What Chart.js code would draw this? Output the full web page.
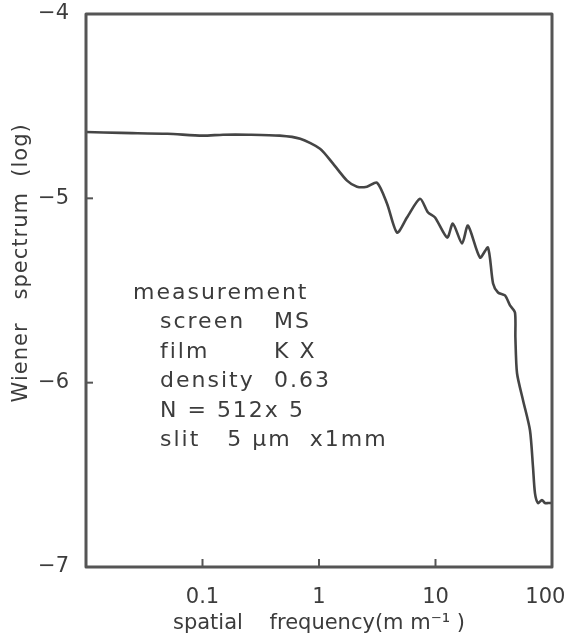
<!DOCTYPE html>
<html>
<head>
<meta charset="utf-8">
<script src="https://cdn.jsdelivr.net/npm/chart.js@4/dist/chart.umd.min.js"></script>
<style>
  html, body { margin: 0; padding: 0; background: #fff; }
  #wrap { width: 569px; height: 636px; }
</style>
</head>
<body>
<div id="wrap"><canvas id="spectrum"></canvas></div>
<script>
// spatial frequency (mm^-1) and log Wiener spectrum
var freq = [0.01, 0.02, 0.05, 0.1, 0.15, 0.25, 0.46, 0.69, 1.02, 1.32, 1.74, 2.12, 2.58, 3.15,
  3.84, 4.68, 5.69, 7.36, 8.63, 9.91, 12.6, 14.1, 16.9, 19.0, 24.1, 28.2, 31.2, 34.4, 39.5,
  43.6, 48.1, 48.5, 50.1, 56.4, 64.7, 68.7, 71.4, 75.8, 82.0, 87.1, 92.5, 100];
var wiener = [-4.64, -4.645, -4.65, -4.66, -4.655, -4.655, -4.66, -4.677, -4.731, -4.812, -4.904, -4.937, -4.937, -4.915,
  -5.029, -5.186, -5.104, -5.002, -5.077, -5.104, -5.213, -5.137, -5.245, -5.148, -5.321, -5.267, -5.462, -5.511, -5.527,
  -5.581, -5.619, -5.754, -5.949, -6.095, -6.258, -6.458, -6.599, -6.653, -6.637, -6.653, -6.653, -6.653];
var xTicks = [0.01, 0.1, 1, 10, 100];
var xTickLabels = ['', '0.1', '1', '10', '100  '];
var yTicks = [-7, -6, -5, -4];

var ink = '#3c3c3c';
var fontFamily = '"DejaVu Sans", sans-serif';

// measurement notes written inside the frame
var notes = [
  { text: 'measurement', col: 0, row: 0 },
  { text: 'screen', col: 1, row: 1 }, { text: 'MS', col: 2, row: 1 },
  { text: 'film', col: 1, row: 2 }, { text: 'K X', col: 2, row: 2 },
  { text: 'density', col: 1, row: 3 }, { text: '0.63', col: 2, row: 3 },
  { text: 'N = 512x 5', col: 1, row: 4 },
  { text: 'slit   5 μm  x1mm', col: 1, row: 5 }
];

var framePlugin = {
  id: 'frame',
  afterDraw: function(chart) {
    var ctx = chart.ctx;
    var a = chart.chartArea;
    var xs = chart.scales.x;
    var ys = chart.scales.y;
    ctx.save();
    // box
    ctx.strokeStyle = '#555';
    ctx.lineWidth = 3;
    ctx.lineJoin = 'round';
    ctx.strokeRect(a.left, a.top, a.right - a.left, a.bottom - a.top);
    // inward tick marks
    ctx.lineWidth = 2;
    [0.1, 1, 10].forEach(function(v) {
      var px = xs.getPixelForValue(v);
      ctx.beginPath();
      ctx.moveTo(px, a.bottom);
      ctx.lineTo(px, a.bottom - 8);
      ctx.stroke();
    });
    [-5, -6].forEach(function(v) {
      var py = ys.getPixelForValue(v);
      ctx.beginPath();
      ctx.moveTo(a.left, py);
      ctx.lineTo(a.left + 7, py);
      ctx.stroke();
    });
    // y axis title
    ctx.fillStyle = ink;
    ctx.font = '21px ' + fontFamily;
    ctx.textAlign = 'center';
    ctx.textBaseline = 'middle';
    ctx.translate(22, a.top + (a.bottom - a.top) * 0.45);
    ctx.rotate(-Math.PI / 2);
    ctx.letterSpacing = '1px';
    ctx.fillText('Wiener   spectrum  (log)', 0, 0);
    ctx.restore();

    // notes
    ctx.save();
    ctx.fillStyle = ink;
    ctx.font = '22px ' + fontFamily;
    ctx.letterSpacing = '2px';
    ctx.textAlign = 'left';
    ctx.textBaseline = 'middle';
    var colX = [a.left + 47, a.left + 74, a.left + 188];
    notes.forEach(function(n) {
      ctx.fillText(n.text, colX[n.col], a.top + 279 + n.row * 29.5);
    });
    ctx.restore();
  }
};

var ctx = document.getElementById('spectrum').getContext('2d');
var chart = new Chart(ctx, {
  type: 'line',
  data: {
    datasets: [{
      label: 'Wiener spectrum',
      data: freq.map(function(f, i) { return { x: f, y: wiener[i] }; }),
      borderColor: '#454545',
      borderWidth: 2.6,
      pointRadius: 0,
      tension: 0.25,
      fill: false
    }]
  },
  options: {
    responsive: true,
    maintainAspectRatio: false,
    animation: false,
    layout: { padding: { top: 14, right: 17, left: 0, bottom: 0 } },
    plugins: {
      legend: { display: false },
      tooltip: { enabled: false }
    },
    scales: {
      x: {
        type: 'logarithmic',
        min: 0.01,
        max: 100,
        afterBuildTicks: function(scale) {
          scale.ticks = xTicks.map(function(v) { return { value: v }; });
        },
        afterFit: function(scale) {
          scale.height = 69;
          scale.paddingLeft = 0;
          scale.paddingRight = 0;
        },
        grid: { display: false },
        border: { display: false },
        ticks: {
          color: ink,
          font: { family: fontFamily, size: 21 },
          padding: 10,
          maxRotation: 0,
          autoSkip: false,
          callback: function(v) { return xTickLabels[xTicks.indexOf(v)]; }
        },
        title: {
          display: true,
          text: 'spatial    frequency(m m⁻¹ )',
          color: ink,
          font: { family: fontFamily, size: 21 },
          padding: { top: -6, bottom: 0 }
        }
      },
      y: {
        min: -7,
        max: -4,
        afterBuildTicks: function(scale) {
          scale.ticks = yTicks.map(function(v) { return { value: v }; });
        },
        afterFit: function(scale) {
          scale.width = 86;
          scale.paddingTop = 0;
          scale.paddingBottom = 0;
        },
        grid: { display: false },
        border: { display: false },
        ticks: {
          color: ink,
          font: { family: fontFamily, size: 21 },
          padding: 9,
          callback: function(v) { return '−' + Math.abs(v); }
        }
      }
    }
  },
  plugins: [framePlugin]
});
</script>
</body>
</html>
